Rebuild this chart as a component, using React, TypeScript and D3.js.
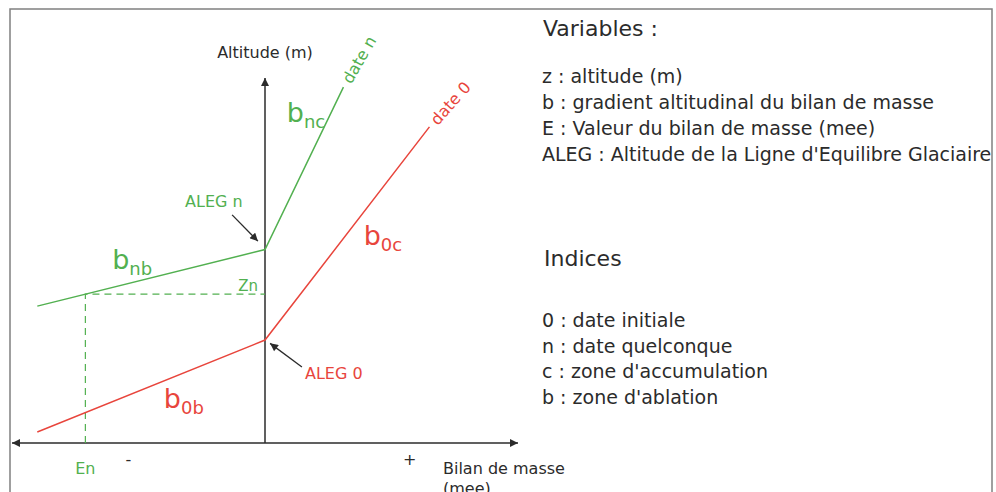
import * as d3 from 'd3';
import { useEffect, useRef } from 'react';

// Schematic mass-balance profiles: b = mass balance (mee), z = altitude (arbitrary units)
const X_DOMAIN: [number, number] = [-5, 5];
const Y_DOMAIN: [number, number] = [0, 10];

const DATE_N = [
  { b: -4.5, z: 3.75 },
  { b: 0, z: 5.3 },
  { b: 1.55, z: 9.75 },
];
const DATE_0 = [
  { b: -4.5, z: 0.3 },
  { b: 0, z: 2.82 },
  { b: 3.25, z: 8.66 },
];
const EN = -3.55;
const ZN = 4.08;

const VARIABLES = [
  'z : altitude (m)',
  'b : gradient altitudinal du bilan de masse',
  'E : Valeur du bilan de masse (mee)',
  "ALEG : Altitude de la Ligne d'Equilibre Glaciaire",
];
const INDICES = [
  '0 : date initiale',
  'n : date quelconque',
  'c : zone d\'accumulation',
  'b : zone d\'ablation',
];

const W = 996;
const H = 492;
const GREEN = '#52b050';
const RED = '#e8453c';
const INK = '#2b2b2b';
const FONT = '"DejaVu Sans", Verdana, sans-serif';

export default function App() {
  const svgRef = useRef<SVGSVGElement>(null);

  useEffect(() => {
    if (!svgRef.current) return;
    const svg = d3.select(svgRef.current);
    svg.selectAll('*').remove();
    svg.attr('width', W).attr('height', H).style('font-family', FONT);

    const x = d3.scaleLinear().domain(X_DOMAIN).range([12, 518]);
    const y = d3.scaleLinear().domain(Y_DOMAIN).range([443, 78]);

    const defs = svg.append('defs');
    const marker = (id: string, color: string) =>
      defs.append('marker')
        .attr('id', id)
        .attr('viewBox', '0 0 10 10')
        .attr('refX', 10).attr('refY', 5)
        .attr('markerWidth', 9).attr('markerHeight', 8)
        .attr('markerUnits', 'userSpaceOnUse')
        .attr('orient', 'auto')
        .append('path').attr('d', 'M0,0L10,5L0,10z').attr('fill', color);
    marker('arr', INK);

    // frame
    svg.append('rect')
      .attr('x', 10).attr('y', 9).attr('width', 982).attr('height', 520)
      .attr('fill', '#fff').attr('stroke', '#808080').attr('stroke-width', 1.5);

    // axes
    svg.append('line')
      .attr('x1', x(0)).attr('y1', y(0)).attr('x2', x(0)).attr('y2', y(Y_DOMAIN[1]))
      .attr('stroke', INK).attr('stroke-width', 1.5).attr('marker-end', 'url(#arr)');
    svg.append('line')
      .attr('x1', x(0)).attr('y1', y(0)).attr('x2', x(X_DOMAIN[0])).attr('y2', y(0))
      .attr('stroke', INK).attr('stroke-width', 1.5).attr('marker-end', 'url(#arr)');
    svg.append('line')
      .attr('x1', x(0)).attr('y1', y(0)).attr('x2', x(X_DOMAIN[1])).attr('y2', y(0))
      .attr('stroke', INK).attr('stroke-width', 1.5).attr('marker-end', 'url(#arr)');

    // projection of Zn / En
    svg.append('path')
      .attr('d', `M${x(EN)},${y(0)}V${y(ZN)}H${x(0)}`)
      .attr('fill', 'none').attr('stroke', GREEN).attr('stroke-width', 1.2)
      .attr('stroke-dasharray', '7,5');

    // profiles
    const line = d3.line<{ b: number; z: number }>().x(d => x(d.b)).y(d => y(d.z));
    svg.append('path').attr('d', line(DATE_N)).attr('fill', 'none')
      .attr('stroke', GREEN).attr('stroke-width', 1.5);
    svg.append('path').attr('d', line(DATE_0)).attr('fill', 'none')
      .attr('stroke', RED).attr('stroke-width', 1.5);

    // rotated date labels along the upper segments
    const endLabel = (pts: { b: number; z: number }[], label: string, color: string) => {
      const a = pts[1], e = pts[2];
      const ang = Math.atan2(y(e.z) - y(a.z), x(e.b) - x(a.b)) * 180 / Math.PI;
      svg.append('text')
        .attr('transform', `translate(${x(e.b)},${y(e.z)}) rotate(${ang + 4})`)
        .attr('x', 6).attr('dy', '0.35em')
        .attr('fill', color).attr('font-size', 16)
        .text(label);
    };
    endLabel(DATE_N, 'date n', GREEN);
    endLabel(DATE_0, 'date 0', RED);

    // gradient labels b with subscript
    const gradLabel = (bx: number, bz: number, sub: string, color: string) => {
      const t = svg.append('text')
        .attr('x', x(bx)).attr('y', y(bz))
        .attr('fill', color).attr('font-size', 27);
      t.append('tspan').text('b');
      t.append('tspan').attr('font-size', 18).attr('dy', 6).text(sub);
    };
    gradLabel(0.43, 8.8, 'nc', GREEN);
    gradLabel(-3.02, 4.77, 'nb', GREEN);
    gradLabel(1.95, 5.43, '0c', RED);
    gradLabel(-2.0, 0.96, '0b', RED);

    // ALEG annotations
    svg.append('text').attr('x', x(-1.58)).attr('y', y(6.47))
      .attr('fill', GREEN).attr('font-size', 16).text('ALEG n');
    svg.append('line')
      .attr('x1', x(-0.65)).attr('y1', y(6.25)).attr('x2', x(-0.14)).attr('y2', y(5.53))
      .attr('stroke', INK).attr('stroke-width', 1.3).attr('marker-end', 'url(#arr)');
    svg.append('text').attr('x', x(0.79)).attr('y', y(1.75))
      .attr('fill', RED).attr('font-size', 16).text('ALEG 0');
    svg.append('line')
      .attr('x1', x(0.73)).attr('y1', y(2.08)).attr('x2', x(0.1)).attr('y2', y(2.73))
      .attr('stroke', INK).attr('stroke-width', 1.3).attr('marker-end', 'url(#arr)');

    svg.append('text').attr('x', x(0) - 7).attr('y', y(ZN) - 3)
      .attr('text-anchor', 'end').attr('fill', GREEN).attr('font-size', 15).text('Zn');
    svg.append('text').attr('x', x(EN)).attr('y', y(0) + 31)
      .attr('text-anchor', 'middle').attr('fill', GREEN).attr('font-size', 16).text('En');

    // axis titles and signs
    svg.append('text').attr('x', x(0)).attr('y', y(Y_DOMAIN[1]) - 20)
      .attr('text-anchor', 'middle').attr('fill', INK).attr('font-size', 16).text('Altitude (m)');
    svg.append('text').attr('x', x(-2.7)).attr('y', y(0) + 22)
      .attr('text-anchor', 'middle').attr('fill', INK).attr('font-size', 16).text('-');
    svg.append('text').attr('x', x(2.86)).attr('y', y(0) + 22)
      .attr('text-anchor', 'middle').attr('fill', INK).attr('font-size', 16).text('+');
    const bt = svg.append('text').attr('x', 443).attr('y', y(0) + 31)
      .attr('fill', INK).attr('font-size', 16);
    bt.append('tspan').text('Bilan de masse');
    bt.append('tspan').attr('x', 443).attr('dy', 20).text('(mee)');

    // legend text block
    svg.append('text').attr('x', 543).attr('y', 36)
      .attr('fill', INK).attr('font-size', 22).text('Variables :');
    svg.selectAll('text.var').data(VARIABLES).join('text')
      .attr('class', 'var')
      .attr('x', 542).attr('y', (_, i) => 83 + i * 26)
      .attr('fill', INK).attr('font-size', 19).text(d => d);
    svg.append('text').attr('x', 544).attr('y', 266)
      .attr('fill', INK).attr('font-size', 22).text('Indices');
    svg.selectAll('text.idx').data(INDICES).join('text')
      .attr('class', 'idx')
      .attr('x', 542).attr('y', (_, i) => 327 + i * 25.7)
      .attr('fill', INK).attr('font-size', 19).text(d => d);
  }, []);

  return <svg ref={svgRef} style={{ position: 'absolute', left: 0, top: 0, background: '#fff' }} />;
}
